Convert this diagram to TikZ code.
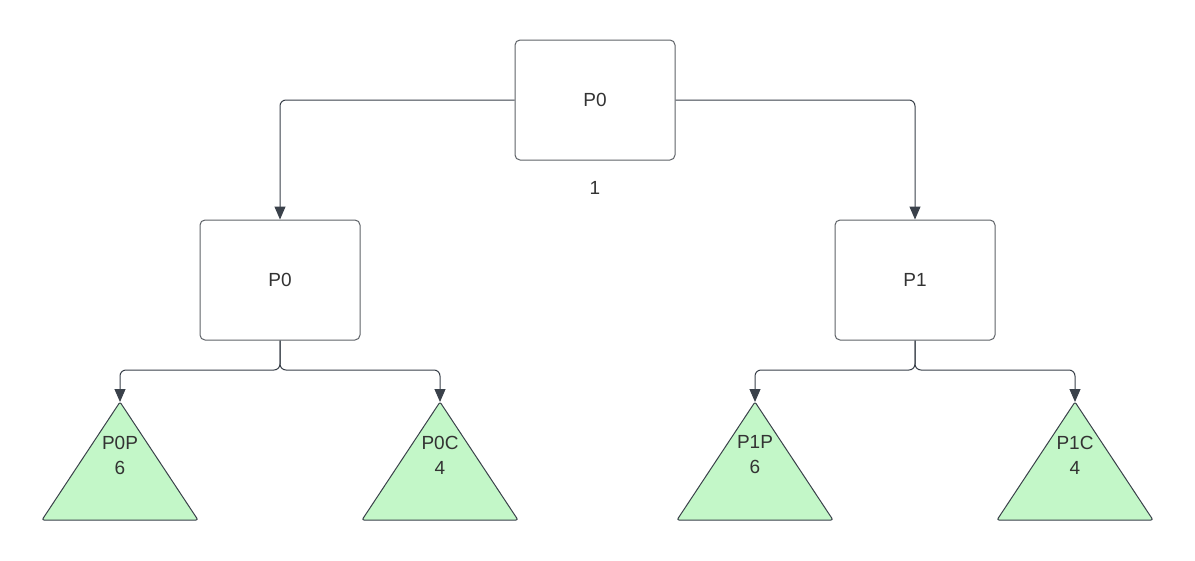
\documentclass[tikz,border=0pt]{standalone}
\usepackage{fontspec}
\setmainfont{Liberation Sans}
\usetikzlibrary{arrows.meta}
\definecolor{linec}{HTML}{3A414A}
\definecolor{boxc}{HTML}{5F6368}
\definecolor{textc}{HTML}{333333}
\definecolor{greenf}{HTML}{C3F7C8}
\begin{document}
\begin{tikzpicture}[x=1pt,y=-1pt,
  procbox/.style={draw=boxc,line width=1pt,rounded corners=5pt,minimum width=160pt,minimum height=120pt,inner sep=0pt,text=textc,font=\fontsize{19}{23}\selectfont},
  conn/.style={draw=linec,line width=1pt,rounded corners=6pt,-{Triangle[length=13pt,width=11pt]}},
  tri/.style={draw=linec,fill=greenf,line width=1pt,line join=round,rounded corners=2pt},
  lbl/.style={text=textc,font=\fontsize{19}{25}\selectfont,align=center,inner sep=0pt}]
\useasboundingbox (0,0) rectangle (1195,560);
\fill[white] (0,0) rectangle (1195,560);
\node[procbox] (top) at (595,100) {P0};
\node[lbl] (one) at (595,188) {1};
\node[procbox] (l) at (280,280) {P0};
\node[procbox] (r) at (915,280) {P1};
% triangles
\foreach \n/\x/\a/\b in {a/120/P0P/6, b/440/P0C/4, c/755/P1P/6, d/1075/P1C/4}{
  \coordinate (\n) at (\x,402);
  \draw[tri] (\n) -- (\x-78,520) -- (\x+78,520) -- cycle;
  \node[lbl] (\n t) at (\x,455) {\a\\\b};
}
\draw[conn] (top.west) -- (280,100) -- (l.north);
\draw[conn] (top.east) -- (915,100) -- (r.north);
\draw[conn] (l.south) -- (280,370) -- (120,370) -- (a);
\draw[conn] (l.south) -- (280,370) -- (440,370) -- (b);
\draw[conn] (r.south) -- (915,370) -- (755,370) -- (c);
\draw[conn] (r.south) -- (915,370) -- (1075,370) -- (d);
\end{tikzpicture}
\end{document}
